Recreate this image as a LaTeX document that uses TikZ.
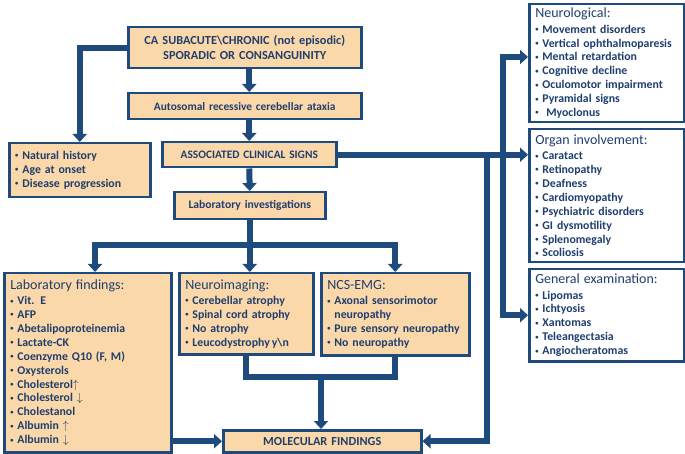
\documentclass[tikz,border=0pt]{standalone}
\usepackage{fontspec}
\setmainfont{Carlito}
\usetikzlibrary{arrows.meta, positioning}
\definecolor{navy}{HTML}{1F4A7E}
\definecolor{peach}{HTML}{FBD8AA}
\definecolor{ink}{HTML}{1F3E6E}
\newcommand\bul{\raisebox{1.6pt}{\fontsize{6.5}{6.5}\selectfont\textbullet}\ }
\newcommand\nob{\phantom{\bul}}
\newcommand\hd[1]{{\mdseries\fontsize{14}{15}\selectfont #1}\\[1.5pt]}

\tikzset{
  >={Triangle[length=8pt,width=14pt]},
  box/.style={draw=navy, line width=2.5pt, fill=peach, text=ink, anchor=north west,
    align=center, inner xsep=3pt, inner ysep=2pt, font=\bfseries\fontsize{11.4}{13.5}\selectfont},
  listbox/.style={box, align=left, inner xsep=6pt, font=\bfseries\fontsize{11.8}{13.9}\selectfont},
  whitebox/.style={listbox, fill=white},
  conn/.style={draw=navy, line width=6pt, ->}
}

\begin{document}
\begin{tikzpicture}[x=1pt,y=-1pt]
  \useasboundingbox (0,0) rectangle (685,454);

  % main column
  \node[box, text width=227pt, minimum height=41pt, font=\bfseries\fontsize{12.3}{15}\selectfont] (top) at (127,26)
    {CA SUBACUTE\textbackslash CHRONIC (not episodic)\\SPORADIC OR CONSANGUINITY};
  \node[box, text width=227pt, minimum height=26pt] (auto) at (127,92) {Autosomal recessive cerebellar ataxia};
  \node[box, text width=168pt, minimum height=25pt] (sign) at (161,141) {ASSOCIATED CLINICAL SIGNS};
  \node[box, text width=145pt, minimum height=27pt, font=\bfseries\fontsize{11.6}{13}\selectfont] (labinv) at (173,191) {Laboratory investigations};
  \node[listbox, text width=129pt, minimum height=54pt] (nh) at (8,142)
    {\bul Natural history\\ \bul Age at onset\\ \bul Disease progression};

  % investigations
  \node[listbox, text width=155pt, minimum height=179pt] (labf) at (3,272)
    {\hd{Laboratory findings:}
     \bul Vit. E\\ \bul AFP\\ \bul Abetalipoproteinemia\\ \bul Lactate-CK\\ \bul Coenzyme Q10 (F, M)\\
     \bul Oxysterols\\ \bul Cholesterol$\uparrow$\\ \bul Cholesterol $\downarrow$\\ \bul Cholestanol\\
     \bul Albumin $\uparrow$\\ \bul Albumin $\downarrow$};
  \node[listbox, text width=122pt, minimum height=81pt] (neuroim) at (178,272)
    {\hd{Neuroimaging:}
     \bul Cerebellar atrophy\\ \bul Spinal cord atrophy\\ \bul No atrophy\\ \bul Leucodystrophy\,y\textbackslash n};
  \node[listbox, text width=136pt, minimum height=82pt] (ncs) at (320,272)
    {\hd{NCS-EMG:}
     \bul Axonal sensorimotor\\ \nob neuropathy\\ \bul Pure sensory neuropathy\\ \bul No neuropathy};
  \node[box, text width=192pt, minimum height=22pt, font=\bfseries\fontsize{12.3}{14}\selectfont] (mol) at (222,429) {MOLECULAR FINDINGS};

  % clinical signs
  \node[whitebox, text width=143pt, minimum height=118pt] (neuro) at (528,3)
    {\hd{Neurological:}
     \bul Movement disorders\\ \bul Vertical ophthalmoparesis\\ \bul Mental retardation\\ \bul Cognitive decline\\
     \bul Oculomotor impairment\\ \bul Pyramidal signs\\ \bul\ Myoclonus};
  \node[whitebox, text width=143pt, minimum height=133pt] (organ) at (528,128)
    {\hd{Organ involvement:}
     \bul Caratact\\ \bul Retinopathy\\ \bul Deafness\\ \bul Cardiomyopathy\\ \bul Psychiatric disorders\\
     \bul GI dysmotility\\ \bul Splenomegaly\\ \bul Scoliosis};
  \node[whitebox, text width=143pt, minimum height=92pt] (gen) at (528,268)
    {\hd{General examination:}
     \bul Lipomas\\ \bul Ichtyosis\\ \bul Xantomas\\ \bul Teleangectasia\\ \bul Angiocheratomas};

  % connectors
  \draw[conn] (top.west) -- (top.west -| nh.north) -- (nh.north);
  \draw[conn] (top.south -| sign.north) -- (auto.north -| sign.north);
  \draw[conn] (auto.south -| sign.north) -- (sign.north);
  \draw[conn] (sign.south) -- (labinv.north);

  \coordinate (bar) at (95,245);
  \draw[conn, <->] (bar |- labf.north) -- (bar) -- (bar -| ncs.north) -- (ncs.north);
  \draw[conn] (labinv.south) -- (labinv.south |- neuroim.north);

  \coordinate (join) at (321,377);
  \draw[conn, -] (neuroim.south) -- (neuroim.south |- join) -- (join -| ncs.south) -- (ncs.south);
  \draw[conn] (join) -- (join |- mol.north);
  \draw[conn] (mol.west -| labf.east) -- (mol.west);

  \coordinate (railA) at (487,154);
  \coordinate (railB) at (503,57);
  \draw[conn] (sign.east) -- (sign.east -| organ.west);
  \draw[conn] (sign.east -| railA) -- (railA |- mol.east) -- (mol.east);
  \draw[conn, <->] (railB -| neuro.west) -- (railB) -- (railB |- gen.west) -- (gen.west);
\end{tikzpicture}
\end{document}
